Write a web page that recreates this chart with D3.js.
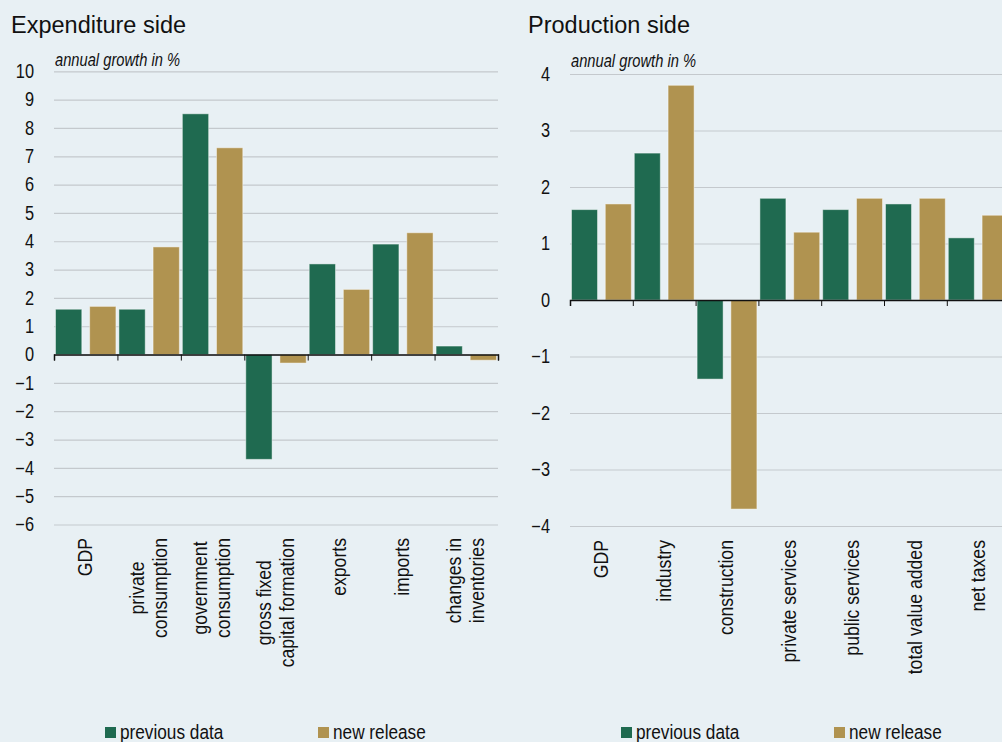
<!DOCTYPE html>
<html>
<head>
<meta charset="utf-8">
<script src="https://cdn.jsdelivr.net/npm/d3@7"></script>
<style>
  body { margin: 0; background: #e8f0f4; }
  svg { display: block; }
  text { fill: #111; font-family: "Liberation Sans", Arial, sans-serif; }
</style>
</head>
<body>
<svg width="1002" height="742"></svg>
<script>
// data
var expCategories = ["GDP", "private\nconsumption", "government\nconsumption", "gross fixed\ncapital formation", "exports", "imports", "changes in\ninventories"]
var expPrevious = [1.6, 1.6, 8.5, -3.7, 3.2, 3.9, 0.3]
var expNew = [1.7, 3.8, 7.3, -0.3, 2.3, 4.3, -0.2]
var expTicks = [-6, -5, -4, -3, -2, -1, 0, 1, 2, 3, 4, 5, 6, 7, 8, 9, 10]

var prodCategories = ["GDP", "industry", "construction", "private services", "public services", "total value added", "net taxes"]
var prodPrevious = [1.6, 2.6, -1.4, 1.8, 1.6, 1.7, 1.1]
var prodNew = [1.7, 3.8, -3.7, 1.2, 1.8, 1.8, 1.5]
var prodTicks = [-4, -3, -2, -1, 0, 1, 2, 3, 4]

var seriesNames = ["previous data", "new release"]
var colors = ["#1f6a50", "#b09350"]

// no narrow font installed, squeeze regular one instead
var squeeze = 0.84

var svg = d3.select("svg")
svg.append("rect").attr("width", 1002).attr("height", 742).attr("fill", "#e8f0f4")

function narrowText(sel, x) {
  sel.attr("x", x / squeeze).attr("transform", "scale(" + squeeze + ",1)")
}

function drawPanel(p) {
  var g = svg.append("g")
  var data = p.categories.map(function(c, i) { return {cat: c, vals: [p.prev[i], p.next[i]]} })

  var x = d3.scaleBand().domain(p.categories).range([p.left, p.right]).padding(0)
  var bw = x.bandwidth()
  var xs = d3.scaleBand().domain([0, 1]).range([1.5, bw - 1.5]).paddingInner(0.23)
  var y = d3.scaleLinear().domain(p.domain).range(p.yrange)

  // title
  g.append("text").attr("x", p.titleX).attr("y", 33)
    .attr("font-size", 23.5)
    .text(p.title)

  // gridlines + tick labels
  var ya = g.append("g")
    .attr("transform", "translate(" + p.left + ",0)")
    .call(d3.axisLeft(y).tickValues(p.ticks).tickSize(-(p.right - p.left)).tickPadding(20))
  ya.select(".domain").remove()
  ya.selectAll("line").attr("stroke", "#c4c9cd").attr("stroke-width", 1.2)
  ya.selectAll("text").attr("font-size", 19.5).attr("fill", "#111")
    .attr("font-family", "Liberation Sans, Arial, sans-serif")
    .call(narrowText, -20)

  g.append("text").attr("y", p.subY)
    .attr("font-size", 17.5).attr("font-style", "italic")
    .text("annual growth in %")
    .call(narrowText, p.left + 1)

  // bars
  var groups = g.selectAll(".cat").data(data).enter().append("g")
    .attr("transform", function(d) { return "translate(" + x(d.cat) + ",0)" })
  groups.selectAll("rect").data(function(d) { return d.vals }).enter().append("rect")
    .attr("x", function(d, i) { return xs(i) })
    .attr("width", xs.bandwidth())
    .attr("y", function(d) { return y(Math.max(0, d)) })
    .attr("height", function(d) { return Math.abs(y(d) - y(0)) })
    .attr("fill", function(d, i) { return colors[i] })
    .attr("stroke", "rgba(255,255,255,0.45)").attr("stroke-width", 1)

  // zero line with ticks at category boundaries
  var xb = d3.scaleLinear().domain([0, p.categories.length]).range([p.left, p.right])
  var xa = g.append("g").attr("transform", "translate(0," + y(0) + ")")
    .call(d3.axisBottom(xb).ticks(p.categories.length).tickSize(6).tickSizeOuter(6).tickFormat(""))
  xa.selectAll("line").attr("stroke", "#111")
  xa.select(".domain").attr("stroke", "#111").attr("stroke-width", 1.5)

  // category labels (rotated)
  var lab = g.selectAll(".lab").data(p.categories).enter().append("g")
  lab.each(function(c) {
    var lines = c.split("\n")
    var n = lines.length
    var cx = x(c) + bw / 2 - 1
    var texts = d3.select(this).selectAll("text").data(lines).enter().append("text")
      .attr("font-size", 21).attr("text-anchor", "middle").attr("dy", "0.35em")
      .text(function(d) { return d })
    var maxLen = d3.max(texts.nodes(), function(t) { return t.getComputedTextLength() }) * squeeze
    var cy = p.labelTop + maxLen / 2
    texts.attr("transform", function(d, i) {
      return "translate(" + (cx + (i - (n - 1) / 2) * 23) + "," + cy + ") rotate(-90) scale(" + squeeze + ",1)"
    })
  })

  // legend
  var leg = g.selectAll(".leg").data(seriesNames).enter().append("g")
    .attr("transform", function(d, i) { return "translate(" + p.legendX[i] + ",0)" })
  leg.append("rect").attr("x", 0).attr("y", 727).attr("width", 11).attr("height", 11)
    .attr("fill", function(d, i) { return colors[i] })
  leg.append("text").attr("y", 739)
    .attr("font-size", 20.5).text(function(d) { return d })
    .call(narrowText, 15)
}

drawPanel({
  title: "Expenditure side", titleX: 11,
  categories: expCategories, prev: expPrevious, next: expNew, ticks: expTicks,
  left: 54, right: 498, domain: [-6, 10], yrange: [524.5, 71.3],
  subY: 66, labelTop: 538, legendX: [105, 318]
})

drawPanel({
  title: "Production side", titleX: 528,
  categories: prodCategories, prev: prodPrevious, next: prodNew, ticks: prodTicks,
  left: 570, right: 1009.6, domain: [-4, 4], yrange: [526, 74],
  subY: 67, labelTop: 540, legendX: [621, 834]
})
</script>
</body>
</html>
